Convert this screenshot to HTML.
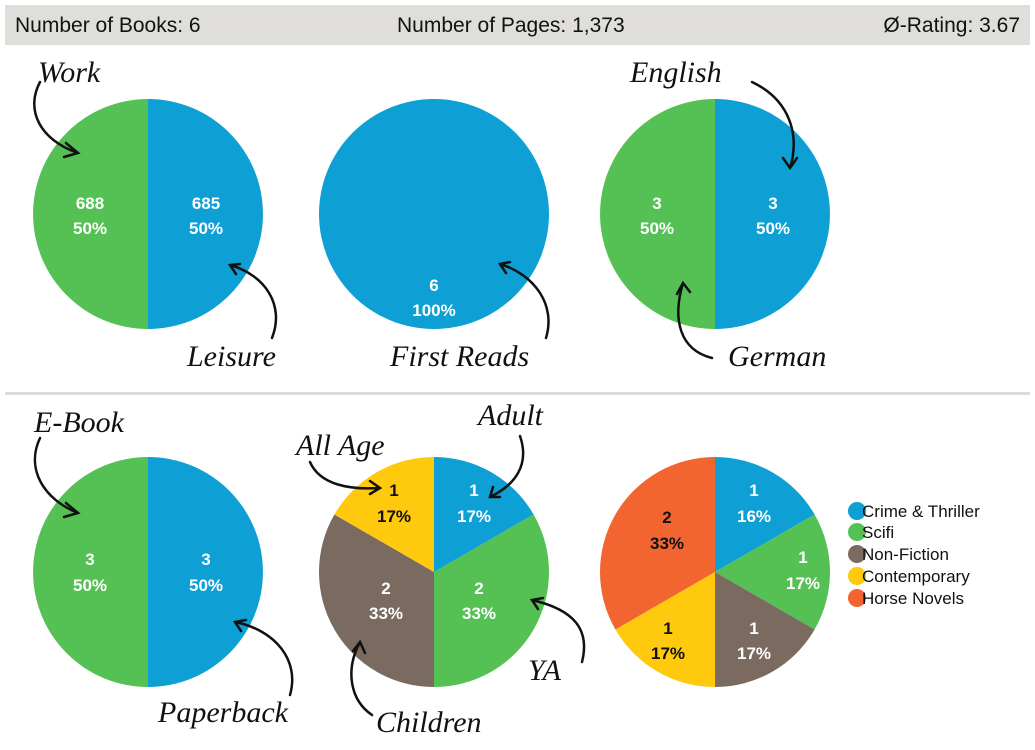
<!DOCTYPE html>
<html><head><meta charset="utf-8"><style>
html,body{margin:0;padding:0;background:#fff;}
svg{display:block}
.h{font-family:"Liberation Sans",sans-serif;font-size:21px;fill:#111}
.v{font-family:"Liberation Sans",sans-serif;font-size:17px;font-weight:bold;fill:#fff;text-anchor:middle}
.vd{font-family:"Liberation Sans",sans-serif;font-size:17px;font-weight:bold;fill:#111;text-anchor:middle}
.a{font-family:"Liberation Serif",serif;font-style:italic;font-size:30px;fill:#111}
.l{font-family:"Liberation Sans",sans-serif;font-size:17px;fill:#111}
.ar{fill:none;stroke:#111;stroke-width:2.5;stroke-linecap:round}
</style></head><body>
<svg width="1035" height="750" viewBox="0 0 1035 750" xmlns="http://www.w3.org/2000/svg">
<rect x="5" y="5" width="1025" height="40" fill="#e0dedb"/>
<text class="h" x="15" y="32">Number of Books: 6</text>
<text class="h" x="397" y="32">Number of Pages: 1,373</text>
<text class="h" x="1020" y="32" text-anchor="end">Ø-Rating: 3.67</text>
<rect x="5" y="392" width="1025" height="3" fill="#dcdcdc"/>

<!-- top row -->
<path d="M148,214 L148,99 A115,115 0 0 1 148,329 Z" fill="#0ea0d4"/>
<path d="M148,214 L148,329 A115,115 0 0 1 148,99 Z" fill="#55c155"/>
<text class="v" x="90" y="209">688</text><text class="v" x="90" y="234">50%</text>
<text class="v" x="206" y="209">685</text><text class="v" x="206" y="234">50%</text>
<circle cx="434" cy="214" r="115" fill="#0ea0d4"/>
<text class="v" x="434" y="291">6</text><text class="v" x="434" y="316">100%</text>
<path d="M715,214 L715,99 A115,115 0 0 1 715,329 Z" fill="#0ea0d4"/>
<path d="M715,214 L715,329 A115,115 0 0 1 715,99 Z" fill="#55c155"/>
<text class="v" x="657" y="209">3</text><text class="v" x="657" y="234">50%</text>
<text class="v" x="773" y="209">3</text><text class="v" x="773" y="234">50%</text>

<!-- bottom row -->
<path d="M148,572 L148,457 A115,115 0 0 1 148,687 Z" fill="#0ea0d4"/>
<path d="M148,572 L148,687 A115,115 0 0 1 148,457 Z" fill="#55c155"/>
<text class="v" x="90" y="565">3</text><text class="v" x="90" y="591">50%</text>
<text class="v" x="206" y="565">3</text><text class="v" x="206" y="591">50%</text>

<path d="M434,572 L434,457 A115,115 0 0 1 533.6,514.5 Z" fill="#0ea0d4"/>
<path d="M434,572 L533.6,514.5 A115,115 0 0 1 434,687 Z" fill="#55c155"/>
<path d="M434,572 L434,687 A115,115 0 0 1 334.4,514.5 Z" fill="#7a6a60"/>
<path d="M434,572 L334.4,514.5 A115,115 0 0 1 434,457 Z" fill="#ffc90e"/>
<text class="v" x="474" y="496">1</text><text class="v" x="474" y="522">17%</text>
<text class="v" x="479" y="594">2</text><text class="v" x="479" y="619">33%</text>
<text class="v" x="386" y="594">2</text><text class="v" x="386" y="619">33%</text>
<text class="vd" x="394" y="496">1</text><text class="vd" x="394" y="522">17%</text>

<path d="M715,572 L715,457 A115,115 0 0 1 814.6,514.5 Z" fill="#0ea0d4"/>
<path d="M715,572 L814.6,514.5 A115,115 0 0 1 814.6,629.5 Z" fill="#55c155"/>
<path d="M715,572 L814.6,629.5 A115,115 0 0 1 715,687 Z" fill="#7a6a60"/>
<path d="M715,572 L715,687 A115,115 0 0 1 615.4,629.5 Z" fill="#ffc90e"/>
<path d="M715,572 L615.4,629.5 A115,115 0 0 1 715,457 Z" fill="#f26531"/>
<text class="v" x="754" y="496">1</text><text class="v" x="754" y="522">16%</text>
<text class="v" x="803" y="563">1</text><text class="v" x="803" y="589">17%</text>
<text class="v" x="754" y="634">1</text><text class="v" x="754" y="659">17%</text>
<text class="vd" x="668" y="634">1</text><text class="vd" x="668" y="659">17%</text>
<text class="vd" x="667" y="523">2</text><text class="vd" x="667" y="549">33%</text>

<!-- legend -->
<circle cx="857" cy="511" r="9" fill="#0ea0d4"/><text class="l" x="862" y="517">Crime &amp; Thriller</text>
<circle cx="857" cy="532" r="9" fill="#55c155"/><text class="l" x="862" y="538">Scifi</text>
<circle cx="857" cy="554" r="9" fill="#7a6a60"/><text class="l" x="862" y="560">Non-Fiction</text>
<circle cx="857" cy="576" r="9" fill="#ffc90e"/><text class="l" x="862" y="582">Contemporary</text>
<circle cx="857" cy="598" r="9" fill="#f26531"/><text class="l" x="862" y="604">Horse Novels</text>

<!-- annotations -->
<text class="a" x="38" y="82">Work</text>
<path class="ar" d="M40,82 C25,110 40,140 78,153 M66,143 L78,153 L64,157"/>
<text class="a" x="187" y="366">Leisure</text>
<path class="ar" d="M272,338 C285,305 265,275 230,265 M240,264 L230,265 L236,274"/>
<text class="a" x="390" y="366">First Reads</text>
<path class="ar" d="M546,338 C556,305 535,275 500,264 M510,262 L500,264 L506,273"/>
<text class="a" x="630" y="82">English</text>
<path class="ar" d="M752,82 C790,100 800,135 790,168 M783,158 L790,168 L797,158"/>
<text class="a" x="728" y="366">German</text>
<path class="ar" d="M712,358 C680,350 672,320 683,283 M677,294 L683,283 L690,292"/>

<text class="a" x="34" y="432">E-Book</text>
<path class="ar" d="M40,438 C25,470 45,500 78,513 M66,503 L78,513 L64,517"/>
<text class="a" x="158" y="722">Paperback</text>
<path class="ar" d="M290,695 C300,660 275,630 235,622 M246,620 L235,622 L241,631"/>
<text class="a" x="296" y="455">All Age</text>
<path class="ar" d="M310,462 C320,485 350,490 380,488 M370,481 L380,488 L370,494"/>
<text class="a" x="478" y="425">Adult</text>
<path class="ar" d="M520,436 C530,465 515,485 490,497 M500,497 L490,497 L493,487"/>
<text class="a" x="528" y="680">YA</text>
<path class="ar" d="M582,662 C590,630 575,610 532,600 M543,598 L532,600 L538,609"/>
<text class="a" x="376" y="732">Children</text>
<path class="ar" d="M372,715 C350,700 345,670 360,642 M353,651 L360,642 L365,653"/>
</svg>
</body></html>
